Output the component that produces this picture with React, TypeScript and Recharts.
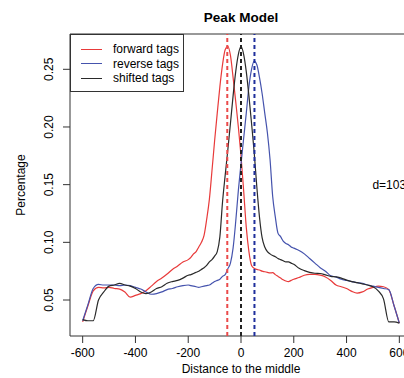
import React from "react"
import { LineChart, Line, XAxis, YAxis, ReferenceLine, ReferenceArea, ReferenceDot, Legend, Label } from "recharts"

// distance to the middle (bp)
const positions = [
  -600, -580, -560, -540, -520, -500, -480, -460, -440, -420, -400, -380, -360, -340, -320, -300, -280, -260, -240, -220, -200,
  -190, -180, -170, -160, -150, -140, -130, -120, -110, -100, -90, -80, -70, -60, -50, -40, -30, -20, -10,
  0, 10, 20, 30, 40, 50, 60, 70, 80, 90, 100, 110, 120, 130, 140, 150, 160, 170, 180, 190,
  200, 220, 240, 260, 280, 300, 320, 340, 360, 380, 400, 420, 440, 460, 480, 500, 520, 540, 560, 580, 600,
]

const forwardTags = [
  0.031, 0.045, 0.058, 0.061, 0.0605, 0.061, 0.06, 0.0595, 0.057, 0.0525, 0.054, 0.0555, 0.058, 0.062, 0.066, 0.069, 0.0725, 0.0765, 0.0795, 0.083, 0.085,
  0.087, 0.09, 0.092, 0.096, 0.1, 0.106, 0.12, 0.137, 0.162, 0.188, 0.212, 0.235, 0.254, 0.267, 0.27, 0.262, 0.243, 0.222, 0.2,
  0.175, 0.145, 0.113, 0.092, 0.08, 0.0775, 0.0765, 0.076, 0.075, 0.0745, 0.074, 0.0735, 0.0737, 0.072, 0.0705, 0.069, 0.0675, 0.0665, 0.066, 0.067,
  0.068, 0.0695, 0.0715, 0.0722, 0.0722, 0.0715, 0.07, 0.067, 0.063, 0.0615, 0.06, 0.0575, 0.056, 0.057, 0.0595, 0.061, 0.062, 0.0615, 0.059, 0.045, 0.03,
]

const reverseTags = [
  0.032, 0.046, 0.06, 0.0635, 0.063, 0.063, 0.063, 0.0625, 0.063, 0.0625, 0.061, 0.0595, 0.057, 0.055, 0.0555, 0.057, 0.059, 0.06, 0.0615, 0.0625, 0.063,
  0.0625, 0.062, 0.0615, 0.061, 0.0615, 0.062, 0.0625, 0.063, 0.0645, 0.066, 0.067, 0.068, 0.0705, 0.072, 0.077, 0.082, 0.095, 0.118, 0.145,
  0.168, 0.19, 0.212, 0.235, 0.25, 0.257, 0.254, 0.243, 0.229, 0.212, 0.195, 0.172, 0.14, 0.122, 0.108, 0.105, 0.101, 0.099, 0.098, 0.096,
  0.095, 0.093, 0.09, 0.086, 0.082, 0.078, 0.075, 0.071, 0.07, 0.068, 0.067, 0.066, 0.065, 0.0645, 0.063, 0.062, 0.061, 0.06, 0.059, 0.045, 0.03,
]

const shiftedTags = [
  0.033, 0.032, 0.032, 0.05, 0.057, 0.062, 0.063, 0.0645, 0.063, 0.062, 0.06, 0.057, 0.0555, 0.057, 0.06, 0.0615, 0.0645, 0.066, 0.067, 0.069, 0.0715,
  0.072, 0.073, 0.074, 0.075, 0.0765, 0.078, 0.08, 0.083, 0.085, 0.088, 0.092, 0.105, 0.135, 0.158, 0.18, 0.203, 0.227, 0.248, 0.263,
  0.27, 0.263, 0.248, 0.227, 0.203, 0.178, 0.148, 0.122, 0.104, 0.096, 0.092, 0.09, 0.0885, 0.0875, 0.086, 0.085, 0.084, 0.083, 0.083, 0.082,
  0.081, 0.0775, 0.0755, 0.074, 0.0732, 0.073, 0.0718, 0.0705, 0.07, 0.069, 0.0672, 0.066, 0.065, 0.064, 0.063, 0.0615, 0.058, 0.051, 0.031, 0.031, 0.03,
]

const forwardPeak = -52
const shiftedPeak = 0
const reversePeak = 51
const fragmentSize = "d=103"
const fragmentLabelX = 498
const fragmentLabelY = 0.15

const xTicks = [-600, -400, -200, 0, 200, 400, 600]
const yTicks = [0.05, 0.1, 0.15, 0.2, 0.25]
const xDomain = [-648, 648]
const yDomain = [0.0188, 0.2806]

const colors: Record<string, string> = {
  forward: "#e83a3a",
  reverse: "#4553ad",
  shifted: "#2a2a2a",
}

const chartData = positions.map((pos, i) => ({
  pos,
  forward: forwardTags[i],
  reverse: reverseTags[i],
  shifted: shiftedTags[i],
}))

function XTick({ x, y, payload }: any) {
  return (
    <text x={x} y={y + 12} textAnchor="middle" fontSize={12} fill="#000">
      {payload.value}
    </text>
  )
}

function YTick({ x, y, payload }: any) {
  const bx = x - 8
  return (
    <text x={bx} y={y} transform={`rotate(-90 ${bx} ${y})`} textAnchor="middle" fontSize={12} fill="#000">
      {Number(payload.value).toFixed(2)}
    </text>
  )
}

function YTitle(props: any) {
  const vb = props.viewBox || { x: 0, y: 34, width: 70, height: 302 }
  const x = vb.x + 25
  const y = vb.y + vb.height / 2
  return (
    <text x={x} y={y} transform={`rotate(-90 ${x} ${y})`} textAnchor="middle" fontSize={12} fill="#000">
      Percentage
    </text>
  )
}

function PeakLegend({ payload }: any) {
  return (
    <div style={{ position: "relative", width: 112, height: 56, border: "1px solid #333", background: "#fff" }}>
      {(payload || []).map((entry: any, i: number) => (
        <div
          key={entry.value}
          style={{ position: "absolute", left: 0, top: 7.3 + i * 14.5, height: 14, display: "flex", alignItems: "center" }}
        >
          <span
            style={{
              display: "inline-block",
              marginLeft: 10,
              width: 21,
              height: 0,
              borderTop: `1.4px solid ${colors[entry.dataKey] || entry.color}`,
            }}
          />
          <span style={{ marginLeft: 11, fontSize: 12, lineHeight: "14px", color: "#000", whiteSpace: "nowrap" }}>
            {entry.value}
          </span>
        </div>
      ))}
    </div>
  )
}

export default function App() {
  return (
    <div
      style={{
        position: "fixed",
        left: 0,
        top: 0,
        width: 404,
        height: 378,
        overflow: "hidden",
        background: "#fff",
        fontFamily: "'Liberation Sans', Arial, sans-serif",
      }}
    >
      <LineChart width={420} height={378} data={chartData} margin={{ top: 34, right: 8, bottom: 0, left: 0 }}>
        <XAxis
          dataKey="pos"
          type="number"
          domain={xDomain}
          ticks={xTicks}
          allowDataOverflow
          axisLine={false}
          tickSize={7}
          tickLine={{ stroke: "#333" }}
          tick={<XTick />}
          height={42}
        >
          <Label value="Distance to the middle" position="insideBottom" offset={5} fill="#000" fontSize={12} />
        </XAxis>
        <YAxis
          type="number"
          domain={yDomain}
          ticks={yTicks}
          allowDataOverflow
          axisLine={false}
          tickSize={7}
          tickLine={{ stroke: "#333" }}
          tick={<YTick />}
          width={70}
        >
          <Label content={<YTitle />} />
        </YAxis>
        <ReferenceArea
          x1={xDomain[0]}
          x2={xDomain[1]}
          y1={yDomain[0]}
          y2={yDomain[1]}
          ifOverflow="visible"
          fill="none"
          stroke="#333"
          strokeWidth={1}
          label={{ value: "Peak Model", position: "top", offset: 12, fill: "#000", fontSize: 13.5, fontWeight: "bold" }}
        />
        <Line name="forward tags" dataKey="forward" type="monotone" stroke={colors.forward} strokeWidth={1.2} dot={false} isAnimationActive={false} />
        <Line name="reverse tags" dataKey="reverse" type="monotone" stroke={colors.reverse} strokeWidth={1.2} dot={false} isAnimationActive={false} />
        <Line name="shifted tags" dataKey="shifted" type="monotone" stroke={colors.shifted} strokeWidth={1.2} dot={false} isAnimationActive={false} />
        <ReferenceLine x={forwardPeak} stroke="#ea4a4a" strokeWidth={2} strokeDasharray="4 3" />
        <ReferenceLine x={shiftedPeak} stroke="#222" strokeWidth={2} strokeDasharray="4 3" />
        <ReferenceLine x={reversePeak} stroke="#1f2f9c" strokeWidth={2} strokeDasharray="4 3" />
        <ReferenceDot
          x={fragmentLabelX}
          y={fragmentLabelY}
          r={0}
          fill="none"
          stroke="none"
          label={{ value: fragmentSize, position: "right", offset: 0, fill: "#000", fontSize: 12 }}
        />
        <Legend
          layout="horizontal"
          verticalAlign="middle"
          align="center"
          wrapperStyle={{ left: 70, top: 34, width: "auto" }}
          content={<PeakLegend />}
        />
      </LineChart>
    </div>
  )
}
